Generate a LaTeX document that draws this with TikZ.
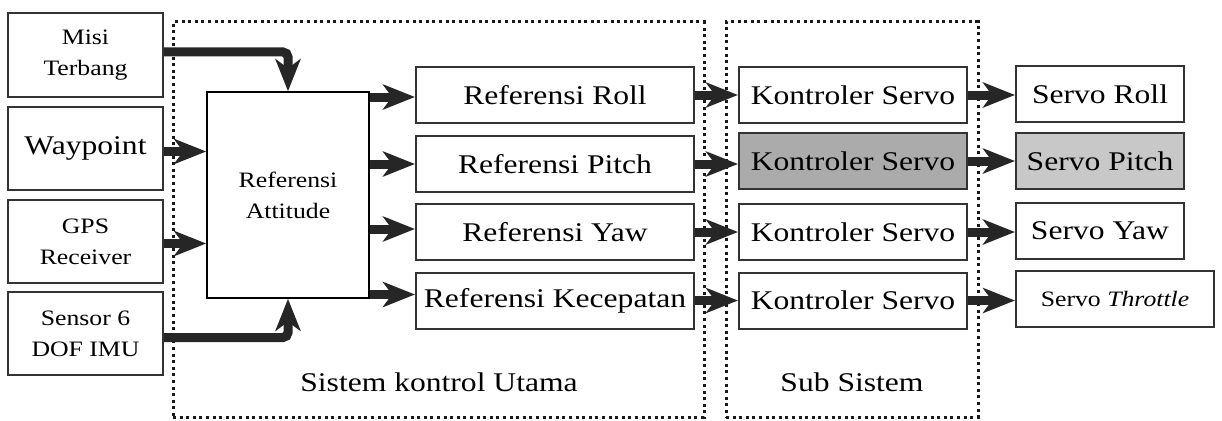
\documentclass[tikz,border=0pt]{standalone}
\usepackage{fontspec}
\setmainfont{Liberation Serif}
\newfontfamily\stretched{Liberation Serif}[FakeStretch=1.17]
\usetikzlibrary{arrows.meta,calc}
\definecolor{ink}{HTML}{262626}
\definecolor{boxline}{HTML}{333333}
\definecolor{darkfill}{HTML}{ABABAB}
\definecolor{lightfill}{HTML}{C8C8C8}
\tikzset{
  blk/.style={draw=boxline, line width=2pt, fill=white, inner sep=0pt, text=black,
     font=\stretched\fontsize{27}{30}\selectfont},
  smallblk/.style={blk, font=\stretched\fontsize{22}{31}\selectfont, align=center},
  dotbox/.style={draw=black!90, line width=3pt, dash pattern=on 3pt off 3.6pt, inner sep=0pt},
  bigarrow/.style={draw=ink, line width=9pt,
     -{Stealth[length=32pt,width=25pt,inset=9pt]}},
  lbl/.style={font=\stretched\fontsize{27}{30}\selectfont, inner sep=0pt, anchor=base},
}
\begin{document}
\begin{tikzpicture}[x=1pt,y=-1pt]
\useasboundingbox (0,0) rectangle (1222,420);
% dotted containers
\node[dotbox, minimum width=531pt, minimum height=395pt] (mainsys) at (438.5,219.5) {};
\node[dotbox, minimum width=252pt, minimum height=395pt] (subsys) at (852,219.5) {};
\node[lbl] (mainlbl) at (439,391) {Sistem kontrol Utama};
\node[lbl] (sublbl) at (852,391) {Sub Sistem};
% inputs
\node[smallblk, minimum width=155pt, minimum height=84pt] (misi) at (85.5,55) {Misi\\Terbang};
\node[blk, minimum width=155pt, minimum height=83pt] (way) at (85.5,148.5) {Waypoint};
\node[smallblk, minimum width=155pt, minimum height=83pt] (gps) at (85.5,241.5) {GPS\\Receiver};
\node[smallblk, minimum width=155pt, minimum height=83pt] (sens) at (85.5,333.5) {Sensor 6\\DOF IMU};
% attitude
\node[smallblk, line width=1.6pt, draw=black, minimum width=162pt, minimum height=206pt] (att) at (288,195) {Referensi\\Attitude};
% references
\node[blk, minimum width=278pt, minimum height=56pt] (rr) at (555,95) {Referensi Roll};
\node[blk, minimum width=278pt, minimum height=56pt] (rp) at (555,164) {Referensi Pitch};
\node[blk, minimum width=278pt, minimum height=56pt] (ry) at (555,232) {Referensi Yaw};
\node[blk, minimum width=278pt, minimum height=56pt] (rk) at (555,300.5) {Referensi Kecepatan};
% controllers
\node[blk, minimum width=228pt, minimum height=56pt] (kr) at (853,95) {Kontroler Servo};
\node[blk, fill=darkfill, minimum width=228pt, minimum height=56pt] (kp) at (853,161) {Kontroler Servo};
\node[blk, minimum width=228pt, minimum height=56pt] (ky) at (853,232) {Kontroler Servo};
\node[blk, minimum width=228pt, minimum height=56pt] (kk) at (853,300.5) {Kontroler Servo};
% servos
\node[blk, minimum width=168pt, minimum height=56pt] (sr) at (1100,94) {Servo Roll};
\node[blk, fill=lightfill, minimum width=168pt, minimum height=56pt] (sp) at (1100,161) {Servo Pitch};
\node[blk, minimum width=168pt, minimum height=56pt] (sy) at (1100,231) {Servo Yaw};
\node[blk, font=\stretched\fontsize{22}{26}\selectfont, minimum width=198pt, minimum height=56pt] (st) at (1115,299) {Servo \textit{Throttle}};
% arrows into attitude
\draw[bigarrow, rounded corners=5pt] ([yshift=3pt]misi.east) -| (att.north);
\draw[bigarrow, rounded corners=5pt] ([yshift=-4pt]sens.east) -| (att.south);
\draw[bigarrow] ([yshift=-3pt]way.east) -- ([yshift=-3pt]way.east -| att.west);
\draw[bigarrow] ([yshift=-2pt]gps.east) -- ([yshift=-2pt]gps.east -| att.west);
% attitude to references
\draw[bigarrow] ($(att.east |- rr.west)+(0,2)$) -- ($(rr.west)+(0,2)$);
\draw[bigarrow] (att.east |- rp.west) -- (rp.west);
\draw[bigarrow] ($(att.east |- ry.west)+(0,-3)$) -- ($(ry.west)+(0,-3)$);
\draw[bigarrow] ($(att.east |- rk.west)+(0,-6)$) -- ($(rk.west)+(0,-6)$);
% references to controllers
\draw[bigarrow] (rr.east) -- (kr.west);
\draw[bigarrow] (rp.east) -- (rp.east -| kp.west);
\draw[bigarrow] (ry.east) -- (ky.west);
\draw[bigarrow] (rk.east) -- (kk.west);
% controllers to servos
\draw[bigarrow] (kr.east) -- (kr.east -| sr.west);
\draw[bigarrow] (kp.east) -- (sp.west);
\draw[bigarrow] (ky.east) -- (ky.east -| sy.west);
\draw[bigarrow] (kk.east) -- (kk.east -| st.west);
\end{tikzpicture}
\end{document}
